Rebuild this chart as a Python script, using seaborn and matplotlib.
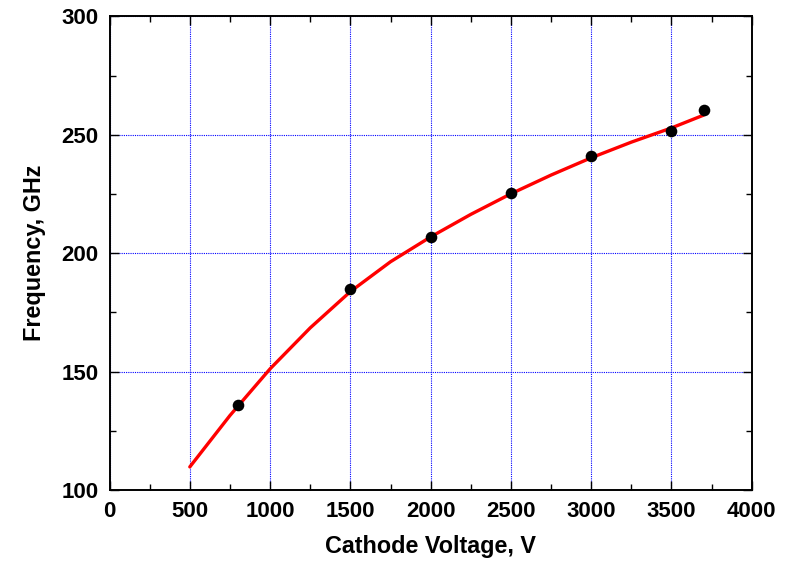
import matplotlib
matplotlib.use("Agg")
import matplotlib.pyplot as plt
from matplotlib.ticker import MultipleLocator
import pandas as pd
import seaborn as sns

# Measured frequency at each cathode voltage
voltage_pts = [800, 1500, 2000, 2500, 3000, 3500, 3700]
freq_pts = [136.1, 184.9, 206.9, 225.6, 241.2, 251.7, 260.3]

# Fitted curve values
voltage_fit = [500, 750, 1000, 1250, 1500, 1750, 2000, 2250, 2500, 2750,
               3000, 3250, 3500, 3700]
freq_fit = [109.8, 131.5, 151.2, 168.5, 183.8, 196.4, 206.9, 216.4, 225.1,
            233.0, 240.3, 246.9, 252.9, 258.3]

pts = pd.DataFrame({"V": voltage_pts, "f": freq_pts})
fit = pd.DataFrame({"V": voltage_fit, "f": freq_fit})

sns.set_style("ticks")
plt.rcParams["font.family"] = ["Liberation Sans", "DejaVu Sans"]
plt.rcParams["font.weight"] = "bold"
plt.rcParams["text.color"] = "black"
plt.rcParams["axes.labelcolor"] = "black"
plt.rcParams["xtick.color"] = "black"
plt.rcParams["ytick.color"] = "black"

fig = plt.figure(figsize=(7.88, 5.64), dpi=100)
ax = fig.add_axes([0.139, 0.131, 0.815, 0.840])

sns.lineplot(data=fit, x="V", y="f", ax=ax, color="#ff0000", linewidth=2.4,
             zorder=3, legend=False)
sns.scatterplot(data=pts, x="V", y="f", ax=ax, color="black", s=70,
                edgecolor="black", linewidth=0, zorder=4, legend=False)

ax.set_xlim(0, 4000)
ax.set_ylim(100, 300)
ax.xaxis.set_major_locator(MultipleLocator(500))
ax.xaxis.set_minor_locator(MultipleLocator(250))
ax.yaxis.set_major_locator(MultipleLocator(50))
ax.yaxis.set_minor_locator(MultipleLocator(25))

ax.grid(True, which="major", color="#0000ff", linestyle=(0, (1, 1)),
        linewidth=0.8)
ax.set_axisbelow(True)

for s in ax.spines.values():
    s.set_visible(True)
    s.set_color("black")
    s.set_linewidth(1.4)

ax.tick_params(which="both", direction="in", top=True, right=True,
               color="black", labelcolor="black", width=1.0)
ax.tick_params(which="major", length=6.5, pad=8, labelsize=16)
ax.tick_params(which="minor", length=4.3)
for lab in ax.get_xticklabels() + ax.get_yticklabels():
    lab.set_fontweight("bold")

ax.set_xlabel("Cathode Voltage, V", fontsize=16.8, fontweight="bold",
              color="black", labelpad=9)
ax.set_ylabel("Frequency, GHz", fontsize=16.8, fontweight="bold",
              color="black", labelpad=11)

fig.savefig("out.png", dpi=100)
